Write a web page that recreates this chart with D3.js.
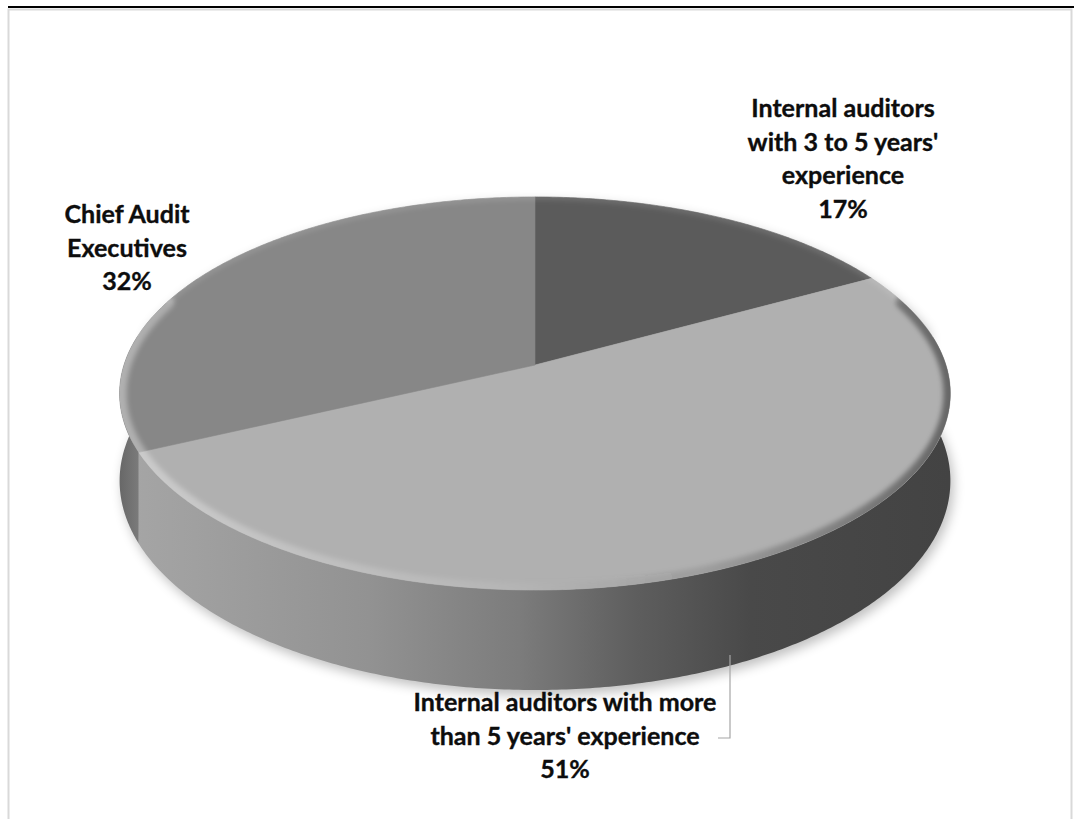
<!DOCTYPE html>
<html>
<head>
<meta charset="utf-8">
<script src="https://cdn.jsdelivr.net/npm/d3@7"></script>
<style>
  html, body { margin: 0; padding: 0; background: #fff; }
  svg { display: block; }
</style>
</head>
<body>
<svg id="chart" width="1074" height="819"></svg>
<script>
// ---- data ----
const categories = [
  "Internal auditors with 3 to 5 years' experience",
  "Internal auditors with more than 5 years' experience",
  "Chief Audit Executives"
];
const values = [17, 51, 32];
const percentLabels = ["17%", "51%", "32%"];
const labelLines = [
  ["Internal auditors", "with 3 to 5 years'", "experience"],
  ["Internal auditors with more", "than 5 years' experience"],
  ["Chief Audit", "Executives"]
];
const topColors = ["#5b5b5b", "#b0b0b0", "#878787"];

// ---- layout ----
const W = 1074, H = 819;
const cx = 535, cy = 365;          // projected pie centre
const A = 411, B = 192.4, k = 0.145, depth = 85.5;
const labelPos = [[843, 117], [565, 711], [127, 223]];
const lineH = 33.5;

const svg = d3.select("#chart");
const defs = svg.append("defs");

// frame
svg.append("rect").attr("x", 8.5).attr("y", 9.5).attr("width", 1063).attr("height", 830)
  .attr("fill", "#fff").attr("stroke", "#d9d9d9").attr("stroke-width", 2);
svg.append("line").attr("x1", 8).attr("x2", 1074).attr("y1", 7).attr("y2", 7)
  .attr("stroke", "#000").attr("stroke-width", 2);

function proj(theta, bottom) {
  const u = Math.sin(theta), v = Math.cos(theta);
  const w = 1 + k * v;
  return [cx + A * u / w, cy + (-B * v + (bottom ? depth : 0)) / w];
}
function arcPts(a, b, bottom) {
  const n = Math.max(2, Math.ceil(Math.abs(b - a) / 0.01));
  return d3.range(n + 1).map(i => proj(a + (b - a) * i / n, bottom));
}
const line = d3.line().curve(d3.curveLinear);

const pie = d3.pie().sort(null).value(d => d)(values);

// gradients
const sideGrad = defs.append("linearGradient").attr("id", "sideLight")
  .attr("gradientUnits", "userSpaceOnUse").attr("x1", 120).attr("x2", 950).attr("y1", 0).attr("y2", 0);
[[0, "#a6a6a6"], [0.3, "#929292"], [0.48, "#7c7c7c"], [0.62, "#5e5e5e"], [0.76, "#494949"], [1, "#434343"]]
  .forEach(s => sideGrad.append("stop").attr("offset", s[0]).attr("stop-color", s[1]));
const sideGradMid = defs.append("linearGradient").attr("id", "sideMid")
  .attr("gradientUnits", "userSpaceOnUse").attr("x1", 120).attr("x2", 142).attr("y1", 0).attr("y2", 0);
[[0, "#686868"], [1, "#7e7e7e"]].forEach(s => sideGradMid.append("stop").attr("offset", s[0]).attr("stop-color", s[1]));
const sideFills = ["#4a4a4a", "url(#sideLight)", "url(#sideMid)"];

const rimGrad = defs.append("linearGradient").attr("id", "rimGrad")
  .attr("gradientUnits", "userSpaceOnUse").attr("x1", 120).attr("x2", 950).attr("y1", 0).attr("y2", 0);
[[0, "#ffffff", 0.35], [0.45, "#ffffff", 0.08], [0.7, "#000000", 0.1], [1, "#000000", 0.42]]
  .forEach(s => rimGrad.append("stop").attr("offset", s[0]).attr("stop-color", s[1]).attr("stop-opacity", s[2]));

const blur = defs.append("filter").attr("id", "shadow").attr("x", "-20%").attr("y", "-20%").attr("width", "140%").attr("height", "140%");
blur.append("feGaussianBlur").attr("stdDeviation", 6);
const blur2 = defs.append("filter").attr("id", "soft").attr("x", "-10%").attr("y", "-10%").attr("width", "120%").attr("height", "120%");
blur2.append("feGaussianBlur").attr("stdDeviation", 2.5);

// shadow silhouette
const full = 2 * Math.PI;
const silPts = arcPts(Math.PI / 2 - 0.2, 3 * Math.PI / 2 + 0.2, true);
svg.append("path")
  .attr("d", line(arcPts(0, full, false)) + "Z " + line(silPts.concat(arcPts(3 * Math.PI / 2 + 0.2, Math.PI / 2 - 0.2, false))) + "Z")
  .attr("fill", "#000").attr("opacity", 0.25).attr("transform", "translate(3,5)")
  .attr("filter", "url(#shadow)");

// sides (front half only)
const g = svg.append("g");
pie.forEach((d, i) => {
  const a = Math.max(d.startAngle, Math.PI / 2 - 0.15);
  const b = Math.min(d.endAngle, 3 * Math.PI / 2 + 0.15);
  if (b <= a) return;
  const pts = arcPts(a, b, false).concat(arcPts(b, a, true));
  g.append("path").attr("d", line(pts) + "Z").attr("fill", sideFills[i]);
});

// top faces
const topG = svg.append("g");
pie.forEach((d, i) => {
  const pts = [[cx, cy]].concat(arcPts(d.startAngle, d.endAngle, false));
  topG.append("path").attr("d", line(pts) + "Z").attr("fill", topColors[i])
    .attr("stroke", topColors[i]).attr("stroke-width", 0.6);
});

// rim bevel on top face (front part only)
defs.append("clipPath").attr("id", "topClip").append("path")
  .attr("d", line(arcPts(0, full, false)) + "Z");
svg.append("path")
  .attr("d", line(arcPts(Math.PI / 2 - 0.35, 3 * Math.PI / 2 + 0.35, false)))
  .attr("fill", "none").attr("stroke", "url(#rimGrad)").attr("stroke-width", 14)
  .attr("stroke-linecap", "round")
  .attr("clip-path", "url(#topClip)").attr("filter", "url(#soft)");
// faint highlight along the back rim
svg.append("path")
  .attr("d", line(arcPts(3 * Math.PI / 2 + 0.35, 2 * Math.PI + Math.PI / 2 - 0.35, false)))
  .attr("fill", "none").attr("stroke", "#ffffff").attr("stroke-opacity", 0.12).attr("stroke-width", 6)
  .attr("clip-path", "url(#topClip)").attr("filter", "url(#soft)");

// leader line for bottom label
svg.append("polyline")
  .attr("points", [[730, 655], [730, 738], [718, 738]].map(p => p.join(",")).join(" "))
  .attr("fill", "none").attr("stroke", "#a6a6a6").attr("stroke-width", 1.2);

// labels
const fontFamily = "Lato, 'Open Sans', sans-serif";
const probe = svg.append("text").attr("font-family", fontFamily).attr("font-weight", 700)
  .attr("font-size", 100).text(labelLines[1][0]);
const measured = probe.node().getComputedTextLength();
probe.remove();
const fontSize = Math.min(26, 100 * 303 / measured);

pie.forEach((d, i) => {
  const lines = labelLines[i].concat([percentLabels[i]]);
  const t = svg.append("text")
    .attr("font-family", fontFamily).attr("font-weight", 700)
    .attr("font-size", fontSize).attr("fill", "#0d0d0d")
    .attr("stroke", "#0d0d0d").attr("stroke-width", 0.35)
    .attr("text-anchor", "middle");
  lines.forEach((s, j) => {
    t.append("tspan").attr("x", labelPos[i][0]).attr("y", labelPos[i][1] + j * lineH).text(s);
  });
});
</script>
</body>
</html>
